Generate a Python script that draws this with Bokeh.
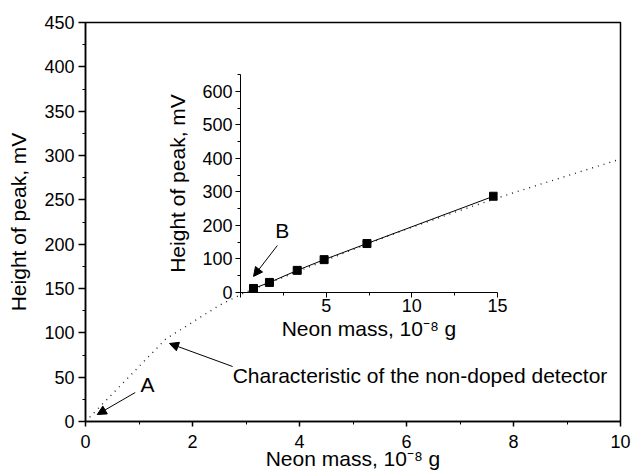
from bokeh.plotting import figure
from bokeh.models import (Range1d, SingleIntervalTicker, FixedTicker, Arrow,
                          NormalHead, Label)
from bokeh.layouts import column
from bokeh.embed import file_html
from bokeh.resources import INLINE

# ---- data ----
# characteristic of the non-doped detector (main plot, dotted)
curve_mass = [0.0, 0.5, 1.0, 1.5, 2.0, 2.5, 3.0, 4.0, 5.0, 6.0, 7.0, 8.0, 9.0, 10.0]
curve_height = [0, 31, 62, 93, 112, 131, 146, 170, 194, 217, 238, 258, 277, 296]

# inset measured points
inset_mass = [0.76, 1.69, 3.31, 4.88, 7.38, 14.77]
inset_height = [12, 30, 66, 98, 146, 287]

main_x_label = "Neon mass, 10\u207b\u2078 g"
main_y_label = "Height of peak, mV"
note_text = "Characteristic of the non-doped detector"
inset_x_ticks = [0, 5, 10, 15]
inset_x_minor = [2.5, 7.5, 12.5]
inset_x_tick_labels = {0: "", 5: "5", 10: "10", 15: "15"}

FONT = "Liberation Sans"
TICK_SIZE = "18px"
LABEL_SIZE = "21px"


def style_axis(ax, line_width=1.5, tick_out=6, standoff=2):
    ax.axis_line_width = line_width
    ax.axis_line_color = "black"
    ax.major_tick_line_color = "black"
    ax.minor_tick_line_color = "black"
    ax.major_tick_line_width = line_width
    ax.minor_tick_line_width = 1
    ax.major_tick_out = tick_out
    ax.major_tick_in = 0
    ax.minor_tick_out = 3
    ax.minor_tick_in = 0
    ax.major_label_text_font = FONT
    ax.major_label_text_font_size = TICK_SIZE
    ax.major_label_text_color = "black"
    ax.major_label_standoff = standoff
    ax.axis_label_text_font = FONT
    ax.axis_label_text_font_size = LABEL_SIZE
    ax.axis_label_text_font_style = "normal"
    ax.axis_label_text_color = "black"


# ---- main figure ----
p = figure(width=632, height=475, output_backend="svg", toolbar_location=None,
           x_range=Range1d(0, 10), y_range=Range1d(0, 450),
           min_border_left=85, min_border_right=11, min_border_top=22,
           min_border_bottom=54)
p.background_fill_color = "white"
p.border_fill_color = "white"
p.outline_line_color = "black"
p.outline_line_width = 1.5
p.xgrid.visible = False
p.ygrid.visible = False

p.xaxis.ticker = SingleIntervalTicker(interval=2, num_minor_ticks=2)
p.yaxis.ticker = SingleIntervalTicker(interval=50, num_minor_ticks=2)
style_axis(p.xaxis[0], tick_out=5, standoff=8)
style_axis(p.yaxis[0], tick_out=7, standoff=4)
p.xaxis.axis_label = main_x_label
p.yaxis.axis_label = main_y_label
p.xaxis.axis_label_standoff = -4
p.yaxis.axis_label_standoff = 11

p.line(curve_mass, curve_height, line_color="#222222", line_width=1.4,
       line_dash="1 5")

p.add_layout(Arrow(end=NormalHead(size=9, fill_color="black", line_color="black"),
                   x_start=0.93, y_start=32.7, x_end=0.22, y_end=7.9,
                   line_color="black", line_width=1))
p.add_layout(Label(x=1.16, y=41.7, text="A", text_font=FONT, text_font_size=LABEL_SIZE,
                   text_align="center", text_baseline="middle", text_color="black"))
p.add_layout(Arrow(end=NormalHead(size=9, fill_color="black", line_color="black"),
                   x_start=2.75, y_start=62, x_end=1.57, y_end=88,
                   line_color="black", line_width=1))
p.add_layout(Label(x=2.75, y=51.5, text=note_text, text_font=FONT,
                   text_font_size=LABEL_SIZE, text_align="left",
                   text_baseline="middle", text_color="black"))

# ---- inset figure ----
q = figure(width=354, height=280, output_backend="svg", toolbar_location=None,
           x_range=Range1d(0, 15), y_range=Range1d(0, 650),
           min_border_left=85, min_border_right=12, min_border_top=6,
           min_border_bottom=56)
q.background_fill_color = None
q.border_fill_color = None
q.outline_line_color = None
q.xgrid.visible = False
q.ygrid.visible = False
q.xaxis.ticker = FixedTicker(ticks=inset_x_ticks, minor_ticks=inset_x_minor)
q.xaxis.major_label_overrides = inset_x_tick_labels
q.yaxis.ticker = SingleIntervalTicker(interval=100, num_minor_ticks=2)
style_axis(q.xaxis[0], 1, tick_out=5, standoff=1)
style_axis(q.yaxis[0], 1, tick_out=5, standoff=3)
q.xaxis.axis_label = main_x_label
q.yaxis.axis_label = main_y_label
q.xaxis.axis_label_standoff = 2
q.yaxis.axis_label_standoff = 10

q.line(inset_mass, inset_height, line_color="black", line_width=1)
q.scatter(inset_mass, inset_height, marker="square", size=8, fill_color="black",
          line_color="black")
q.add_layout(Arrow(end=NormalHead(size=9, fill_color="black", line_color="black"),
                   x_start=2.15, y_start=140, x_end=0.76, y_end=48,
                   line_color="black", line_width=1))
q.add_layout(Label(x=2.44, y=185, text="B", text_font=FONT, text_font_size=LABEL_SIZE,
                   text_align="center", text_baseline="middle", text_color="black"))

q.margin = (-407, 0, 0, 155)

layout = column(p, q)
open("out.html", "w").write(file_html(layout, INLINE))
